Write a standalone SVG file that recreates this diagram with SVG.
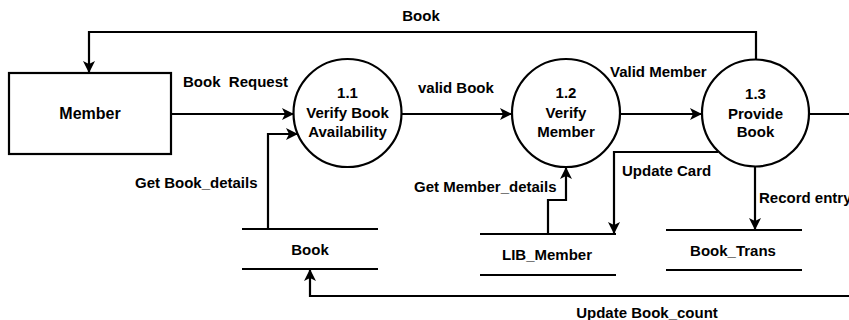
<svg xmlns="http://www.w3.org/2000/svg" width="849" height="320" viewBox="0 0 849 320">
  <style>
    .ln { fill: none; stroke: #000; stroke-width: 2.2; }
    .shape { fill: #fff; stroke: #000; stroke-width: 2.2; }
    .t { font-family: "Liberation Sans", Arial, sans-serif; font-weight: bold; font-size: 15px; fill: #000; }
    .c { text-anchor: middle; }
  </style>
  <defs>
    <marker id="arrow" viewBox="0 0 12 12" refX="11" refY="6" markerWidth="12" markerHeight="12" markerUnits="userSpaceOnUse" orient="auto">
      <path d="M0,0 L12,6 L0,12 L3,6 z" fill="#000"/>
    </marker>
  </defs>
  <rect width="849" height="320" fill="#fff"/>

  <g id="connectors">
    <!-- 1.3 -> Member : Book -->
    <polyline class="ln" points="756,60 756,32 89,32 89,72" marker-end="url(#arrow)"/>
    <!-- Member -> 1.1 : Book Request -->
    <line class="ln" x1="171" y1="114" x2="293" y2="114" marker-end="url(#arrow)"/>
    <!-- Book store -> 1.1 : Get Book_details -->
    <polyline class="ln" points="268,229 268,134 297,134" marker-end="url(#arrow)"/>
    <!-- 1.1 -> 1.2 : valid Book -->
    <line class="ln" x1="402" y1="114" x2="511" y2="114" marker-end="url(#arrow)"/>
    <!-- 1.2 -> 1.3 : Valid Member -->
    <line class="ln" x1="620" y1="114" x2="701" y2="114" marker-end="url(#arrow)"/>
    <!-- 1.3 outgoing to the right, returning to Book store : Update Book_count -->
    <line class="ln" x1="809" y1="114" x2="849" y2="114"/>
    <polyline class="ln" points="849,296 310,296 310,270" marker-end="url(#arrow)"/>
    <!-- LIB_Member -> 1.2 : Get Member_details -->
    <polyline class="ln" points="548,234 548,200 566,200 566,168" marker-end="url(#arrow)"/>
    <!-- 1.3 -> LIB_Member : Update Card -->
    <polyline class="ln" points="718,152 614,152 614,233" marker-end="url(#arrow)"/>
    <!-- 1.3 -> Book_Trans : Record entry -->
    <line class="ln" x1="755" y1="167" x2="755" y2="229" marker-end="url(#arrow)"/>

    <text class="t c" x="421" y="21">Book</text>
    <text class="t" x="183" y="87" xml:space="preserve">Book  Request</text>
    <text class="t" x="418" y="93">valid Book</text>
    <text class="t" x="610" y="77">Valid Member</text>
    <text class="t" x="135" y="188">Get Book_details</text>
    <text class="t" x="414" y="192">Get Member_details</text>
    <text class="t" x="622" y="176">Update Card</text>
    <text class="t" x="759" y="203">Record entry</text>
    <text class="t c" x="647" y="318">Update Book_count</text>
  </g>

  <g id="member">
    <rect class="shape" x="9" y="73" width="162" height="81"/>
    <text class="t c" x="90" y="119" style="font-size:16px">Member</text>
  </g>

  <g id="p1-1">
    <circle class="shape" cx="347.5" cy="113" r="54"/>
    <text class="t c" x="347.5" y="98">1.1</text>
    <text class="t c" x="347.5" y="118">Verify Book</text>
    <text class="t c" x="347.5" y="137">Availability</text>
  </g>

  <g id="p1-2">
    <circle class="shape" cx="566" cy="113" r="54"/>
    <text class="t c" x="566" y="98">1.2</text>
    <text class="t c" x="566" y="118">Verify</text>
    <text class="t c" x="566" y="137">Member</text>
  </g>

  <g id="p1-3">
    <circle class="shape" cx="755.5" cy="113" r="53.5"/>
    <text class="t c" x="755.5" y="99">1.3</text>
    <text class="t c" x="755.5" y="119">Provide</text>
    <text class="t c" x="755.5" y="137">Book</text>
  </g>

  <g id="store-book">
    <line class="ln" x1="242" y1="229" x2="378" y2="229"/>
    <line class="ln" x1="242" y1="269" x2="378" y2="269"/>
    <text class="t c" x="310" y="255">Book</text>
  </g>

  <g id="store-lib-member">
    <line class="ln" x1="480" y1="234" x2="616" y2="234"/>
    <line class="ln" x1="480" y1="275" x2="616" y2="275"/>
    <text class="t c" x="547" y="260">LIB_Member</text>
  </g>

  <g id="store-book-trans">
    <line class="ln" x1="666" y1="230" x2="802" y2="230"/>
    <line class="ln" x1="666" y1="270" x2="802" y2="270"/>
    <text class="t c" x="733" y="256">Book_Trans</text>
  </g>
</svg>
